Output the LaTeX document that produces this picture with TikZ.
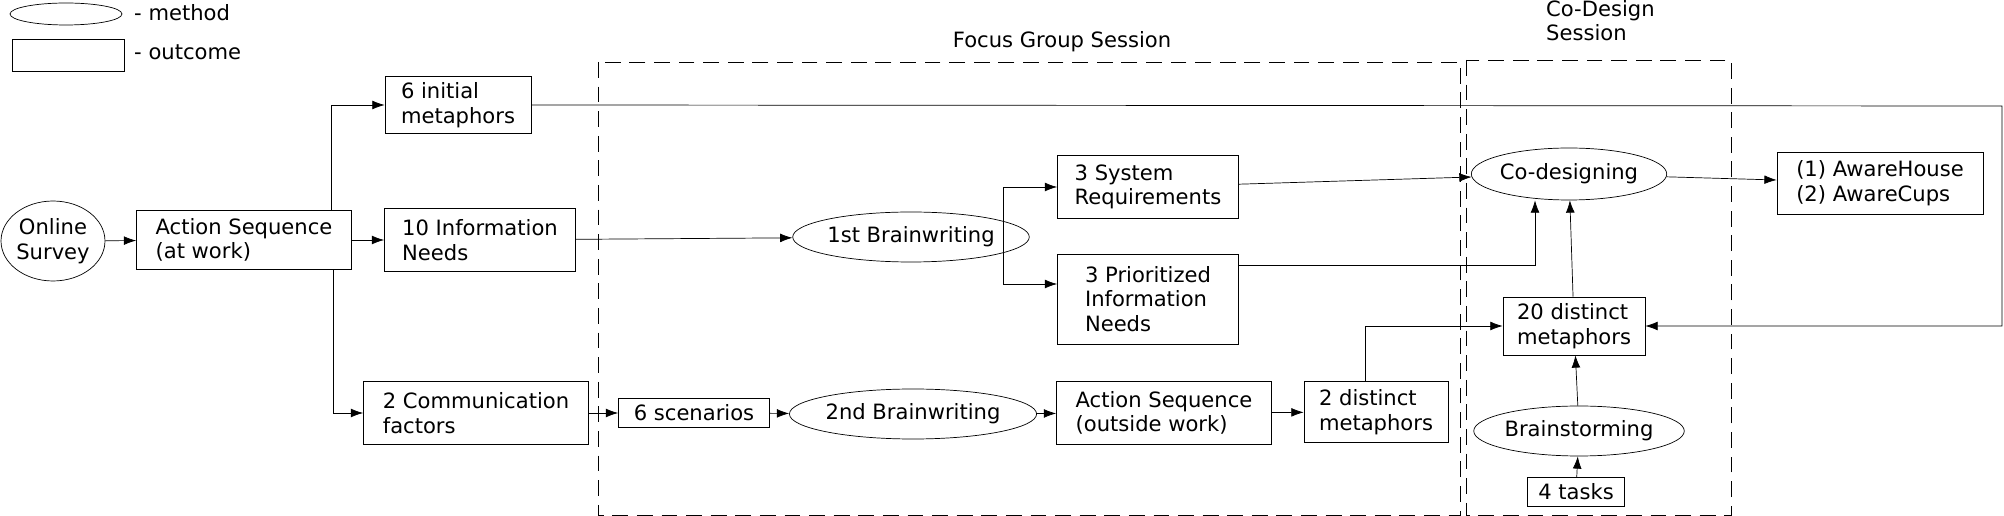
\documentclass[tikz,border=0pt]{standalone}
\usepackage{fontspec}
\setmainfont{DejaVu Sans}
\usetikzlibrary{shapes.geometric,arrows.meta}
\tikzset{method/.style={draw, ellipse, inner sep=0pt, align=center, font=\fontsize{12}{14}\selectfont}}
\tikzset{outcome/.style={draw, rectangle, inner sep=2pt, align=left, font=\fontsize{12}{14}\selectfont}}
\tikzset{conn/.style={-{Latex[length=7pt,width=5pt]}}}
\tikzset{session/.style={dashed, dash pattern=on 9pt off 5pt}}

\begin{document}
\begin{tikzpicture}[x=0.02cm, y=-0.02cm]
        \useasboundingbox (0,0) rectangle (2004,516);
        % legend
        \node[method, minimum width=2.24cm, minimum height=0.44cm] (Lm) at (66,14) {};
        \node[anchor=west, font=\fontsize{12}{14}\selectfont] (Lmt) at (128,13) {- method};
        \node[outcome, minimum width=2.24cm, minimum height=0.64cm] (Lo) at (68,55) {};
        \node[anchor=west, font=\fontsize{12}{14}\selectfont] (Lot) at (128,52) {- outcome};

        % sessions
        \draw[session] (598,62) rectangle (1460,515);
        \draw[session] (1466,60) rectangle (1731,515);
        \node[font=\fontsize{12}{14}\selectfont] (FG) at (1062,42) {Focus Group Session};
        \node[anchor=north west, align=left, font=\fontsize{12}{14}\selectfont] (CD) at (1540,-6) {Co-Design\\Session};

        % nodes
        \node[method, minimum width=2.08cm, minimum height=1.6cm] (Survey) at (53,241) {Online\\Survey};
        \node[outcome, minimum width=4.3cm, minimum height=1.18cm] (ASwork) at (244,240) {Action Sequence\\(at work)};
        \node[outcome, minimum width=2.92cm, minimum height=1.14cm] (Init) at (458,105) {6 initial\\metaphors};
        \node[outcome, minimum width=3.82cm, minimum height=1.26cm] (Info) at (480,240) {10 Information\\Needs};
        \node[outcome, minimum width=4.5cm, minimum height=1.26cm] (Comm) at (476,413) {2 Communication\\factors};
        \node[outcome, minimum width=3.02cm, minimum height=0.58cm] (Scen) at (694,413) {6 scenarios};
        \node[method, minimum width=4.36cm, minimum height=1cm] (BWa) at (911,237) {1st Brainwriting};
        \node[method, minimum width=4.4cm, minimum height=1cm] (BWb) at (913,414) {2nd Brainwriting};
        \node[outcome, minimum width=3.62cm, minimum height=1.26cm] (Sys) at (1148,187) {3 System\\Requirements};
        \node[outcome, minimum width=3.62cm, minimum height=1.8cm] (Prio) at (1148,299) {3 Prioritized\\Information\\Needs};
        \node[outcome, minimum width=4.3cm, minimum height=1.26cm] (ASout) at (1164,413) {Action Sequence\\(outside work)};
        \node[outcome, minimum width=2.88cm, minimum height=1.22cm] (Dist) at (1376,412) {2 distinct\\metaphors};
        \node[method, minimum width=3.64cm, minimum height=1.04cm] (CoD) at (1569,174) {Co-designing};
        \node[outcome, minimum width=2.84cm, minimum height=1.16cm] (Twenty) at (1574,326) {20 distinct\\metaphors};
        \node[method, minimum width=4.02cm, minimum height=1cm] (Storm) at (1579,431) {Brainstorming};
        \node[outcome, minimum width=1.94cm, minimum height=0.58cm] (Tasks) at (1576,492) {4 tasks};
        \node[outcome, minimum width=4.12cm, minimum height=1.24cm] (Aware) at (1880,183) {(1) AwareHouse\\(2) AwareCups};

        \coordinate (Fork) at (1003,187);
        \coordinate (Far) at (2002,106);

        % connectors
        \draw[conn] (Survey) -- (ASwork);
        \draw[conn] (ASwork.north -| 331,0) |- (Init.west);
        \draw[conn] (ASwork) -- (Info);
        \draw[conn] (ASwork.south -| 333,0) |- (Comm.west);
        \draw[conn] (Init.east) -- (Far) |- (Twenty.east);
        \draw[conn] (Info) -- (BWa);
        \draw (BWa.east -| Fork) -- (Fork);
        \draw[conn] (Fork) -- (Sys.west);
        \draw[conn] (BWa.east -| Fork) |- (Prio.west |- 0,284);
        \draw[conn] (Comm) -- (Scen);
        \draw[conn] (Scen) -- (BWb);
        \draw[conn] (BWb) -- (ASout);
        \draw[conn] (ASout) -- (Dist);
        \draw[conn] (Dist.north -| 1365,0) |- (Twenty.west);
        \draw[conn] (Sys) -- (CoD);
        \draw[conn] (Prio.east |- 0,265) -| (CoD.south -| 1535,0);
        \draw[conn] (Twenty) -- (CoD);
        \draw[conn] (Storm) -- (Twenty);
        \draw[conn] (Tasks) -- (Storm);
        \draw[conn] (CoD) -- (Aware);
\end{tikzpicture}
\end{document}
